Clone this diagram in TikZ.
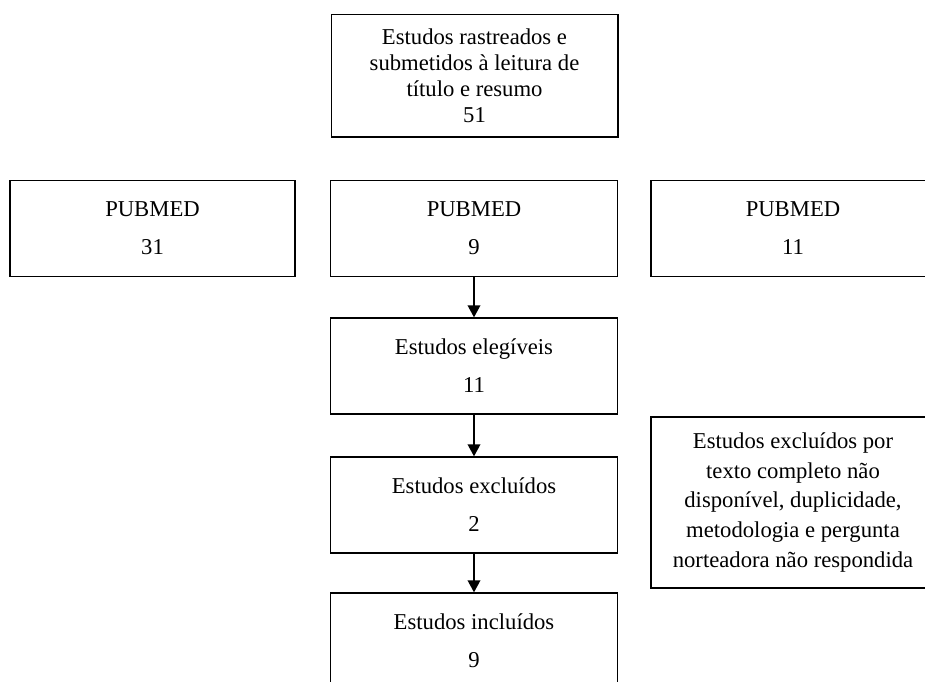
\documentclass[tikz,border=0pt]{standalone}
\usepackage{fontspec}
\setmainfont{Liberation Serif}
\usetikzlibrary{arrows.meta}

\begin{document}
\begin{tikzpicture}[->,>={Triangle[length=9pt,width=9.5pt]},x=0.75pt,y=-0.75pt,
                    line width=1pt,
                    main node/.style={draw,align=center,inner sep=0pt,
                      font=\fontsize{17}{19.5}\selectfont,
                      minimum width=215pt,minimum height=72pt}]

  \path[use as bounding box,clip] (0,0) rectangle (925,682);

  \node[main node,minimum height=92pt] (rastreados) at (474.5,75.5)
    {Estudos rastreados e\\submetidos à leitura de\\título e resumo\\51};

  \node[main node,minimum width=213.75pt] (pubmedA) at (152.5,228.5) {PUBMED\\[9pt]31};
  \node[main node] (pubmedB) at (474,228.5) {PUBMED\\[9pt]9};
  \node[main node,minimum width=213pt] (pubmedC) at (793,228.5) {PUBMED\\[9pt]11};

  \node[main node] (elegiveis) at (474,366) {Estudos elegíveis\\[9pt]11};
  \node[main node] (excluidos) at (474,505) {Estudos excluídos\\[9pt]2};
  \node[main node] (incluidos) at (474,641) {Estudos incluídos\\[9pt]9};

  \node[main node,minimum width=213pt,minimum height=128.25pt,
        font=\fontsize{17}{22.3}\selectfont] (motivos) at (793,502.5)
    {Estudos excluídos por\\texto completo não\\disponível, duplicidade,\\metodologia e pergunta\\norteadora não respondida};

  \path (pubmedB) edge (elegiveis)
        (elegiveis) edge (excluidos)
        (excluidos) edge (incluidos);

\end{tikzpicture}
\end{document}
